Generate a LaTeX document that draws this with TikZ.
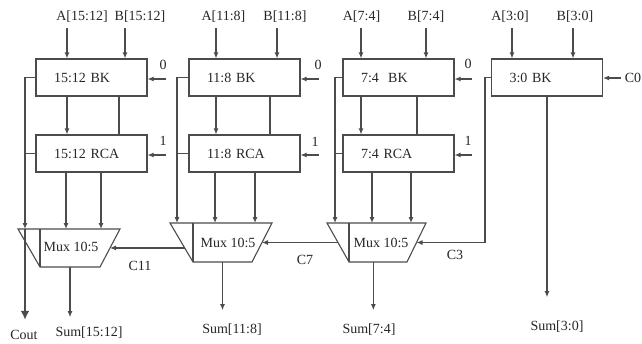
\documentclass[tikz,border=0pt]{standalone}
\usepackage{fontspec}
\setmainfont{Liberation Serif}
\usetikzlibrary{arrows.meta}

\begin{document}
\begin{tikzpicture}[x=1pt, y=-1pt, line width=1.1pt, color=black!70, >={Latex[length=6pt,width=5pt]}, font=\fontsize{14}{16}\selectfont]
\tikzstyle{every node} = [text=black!85, inner sep=0pt]
\tikzstyle{blk} = [draw=black!70, rectangle, minimum width=111, minimum height=37, text width=75, align=left]
\useasboundingbox (0,0) rectangle (642,343);
% adder blocks
\node[blk] (bk1) at (91.5,77.5) {15:12 BK};
\node[blk] (rca1) at (91.5,153.5) {15:12 RCA};
\node[blk] (bk2) at (244.5,77.5) {11:8 BK};
\node[blk] (rca2) at (244.5,153.5) {11:8 RCA};
\node[blk] (bk3) at (398.5,77.5) {7:4~~BK};
\node[blk] (rca3) at (398.5,153.5) {7:4 RCA};
\node[blk] (bk4) at (547,77.5) {3:0 BK};
% multiplexers
\draw (40,267) coordinate (m1bl) -- coordinate[pos=.5] (m1w) (18,229) coordinate (m1tl) -- (120,229) coordinate (m1tr)
	-- coordinate[pos=.5] (m1e) (100,267) coordinate (m1br) -- coordinate[pos=.5] (m1s) cycle;
\draw (193,262) coordinate (m2bl) -- coordinate[pos=.36] (m2w) (170,223) coordinate (m2tl) -- (272,223) coordinate (m2tr)
	-- coordinate[pos=.5] (m2e) (252,262) coordinate (m2br) -- coordinate[pos=.5] (m2s) cycle;
\draw (349,262) coordinate (m3bl) -- coordinate[pos=.5] (m3w) (327,223) coordinate (m3tl) -- (426,223) coordinate (m3tr)
	-- coordinate[pos=.5] (m3e) (407,262) coordinate (m3br) -- coordinate[pos=.58] (m3s) cycle;
\draw (m1bl) -- (m1bl |- m1tl);
\draw (m2bl) -- (m2bl |- m2tl);
\draw (m3bl) -- (m3bl |- m3tl);
\node (mux1) at (71,247) {Mux 10:5};
\node (mux2) at (228,243) {Mux 10:5};
\node (mux3) at (381,243) {Mux 10:5};
% operand inputs
\node (la1) at (82,17) {A[15:12]};
\node (lb1) at (140,17) {B[15:12]};
\node (la2) at (223.5,17) {A[11:8]};
\node (lb2) at (285,17) {B[11:8]};
\node (la3) at (361.5,17) {A[7:4]};
\node (lb3) at (426,17) {B[7:4]};
\node (la4) at (510,17) {A[3:0]};
\node (lb4) at (575,17) {B[3:0]};
\coordinate (a1) at (67,28);
\coordinate (b1) at (125,28);
\coordinate (a2) at (216,28);
\coordinate (b2) at (277,28);
\coordinate (a3) at (361,28);
\coordinate (b3) at (426,28);
\coordinate (a4) at (512,28);
\coordinate (b4) at (573,28);
\draw[->] (a1) -- (a1 |- bk1.north);
\draw[->] (b1) -- (b1 |- bk1.north);
\draw[->] (a2) -- (a2 |- bk2.north);
\draw[->] (b2) -- (b2 |- bk2.north);
\draw[->] (a3) -- (a3 |- bk3.north);
\draw[->] (b3) -- (b3 |- bk3.north);
\draw[->] (a4) -- (a4 |- bk4.north);
\draw[->] (b4) -- (b4 |- bk4.north);
% carry in 0 / 1
\node (z1) at (163,65) {0};
\node (o1) at (163,141) {1};
\node (z2) at (318,65) {0};
\node (o2) at (315,142) {1};
\node (z3) at (468,64) {0};
\node (o3) at (468,141) {1};
\node[inner sep=3pt] (cin) at (633,78) {C0};
\coordinate (k1) at (166,79);
\coordinate (j1) at (166,155);
\coordinate (k2) at (319,79);
\coordinate (j2) at (319,155);
\coordinate (k3) at (472,79);
\coordinate (j3) at (472,155);
\draw[->] (k1) -- (k1 -| bk1.east);
\draw[->] (j1) -- (j1 -| rca1.east);
\draw[->] (k2) -- (k2 -| bk2.east);
\draw[->] (j2) -- (j2 -| rca2.east);
\draw[->] (k3) -- (k3 -| bk3.east);
\draw[->] (j3) -- (j3 -| rca3.east);
\draw[->] (cin.west) -- (cin.west -| bk4.east);
% BK to RCA
\coordinate (t1) at (119,0);
\coordinate (t2) at (270,0);
\coordinate (t3) at (417,0);
\draw[->] (bk1.south -| a1) -- (rca1.north -| a1);
\draw (bk1.south -| t1) -- (rca1.north -| t1);
\draw[->] (bk2.south -| a2) -- (rca2.north -| a2);
\draw (bk2.south -| t2) -- (rca2.north -| t2);
\draw[->] (bk3.south -| a3) -- (rca3.north -| a3);
\draw (bk3.south -| t3) -- (rca3.north -| t3);
% into the multiplexers
\coordinate (l1) at (25,0);
\coordinate (p1) at (66,0);
\coordinate (q1) at (101,0);
\coordinate (l2) at (177,0);
\coordinate (p2) at (215,0);
\coordinate (q2) at (255,0);
\coordinate (l3) at (335,0);
\coordinate (p3) at (372,0);
\coordinate (q3) at (411,0);
\draw[->] (bk1.west) -| (m1tl -| l1);
\draw (rca1.west) -- (rca1.west -| l1);
\draw[->] (rca1.south -| p1) -- (m1tl -| p1);
\draw[->] (rca1.south -| q1) -- (m1tl -| q1);
\draw[->] (bk2.west) -| (m2tl -| l2);
\draw (rca2.west) -- (rca2.west -| l2);
\draw[->] (rca2.south -| p2) -- (m2tl -| p2);
\draw[->] (rca2.south -| q2) -- (m2tl -| q2);
\draw[->] (bk3.west) -| (m3tl -| l3);
\draw (rca3.west) -- (rca3.west -| l3);
\draw[->] (rca3.south -| p3) -- (m3tl -| p3);
\draw[->] (rca3.south -| q3) -- (m3tl -| q3);
% carry chain
\coordinate (c3) at (485,0);
\draw[->] (bk4.west) -| (c3 |- m3e) -- (m3e);
\draw[->] (m3w) -- (m2e);
\draw[->] (m2w) -- (m2w -| m1e);
\node (lc3) at (455,255) {C3};
\node (lc7) at (305,259.5) {C7};
\node (lc11) at (140,266) {C11};
% outputs
\node (cout) at (24,335) {Cout};
\node (sum1) at (89,332.5) {Sum[15:12]};
\node (sum2) at (232,329.5) {Sum[11:8]};
\node (sum3) at (369,329.5) {Sum[7:4]};
\node (sum4) at (557,326.5) {Sum[3:0]};
\draw[line width=2pt, -{Latex[length=9pt,width=9pt]}, shorten >=10pt] (m1tl -| l1) -- (cout.north -| l1);
\draw[->, shorten >=9pt] (m1s) -- (m1s |- sum1.north);
\draw[->, shorten >=13pt] (m2s) -- (m2s |- sum2.north);
\draw[->, shorten >=13pt] (m3s) -- (m3s |- sum3.north);
\draw[->, shorten >=23pt] (bk4.south) -- (bk4.south |- sum4.north);
\end{tikzpicture}
\end{document}
